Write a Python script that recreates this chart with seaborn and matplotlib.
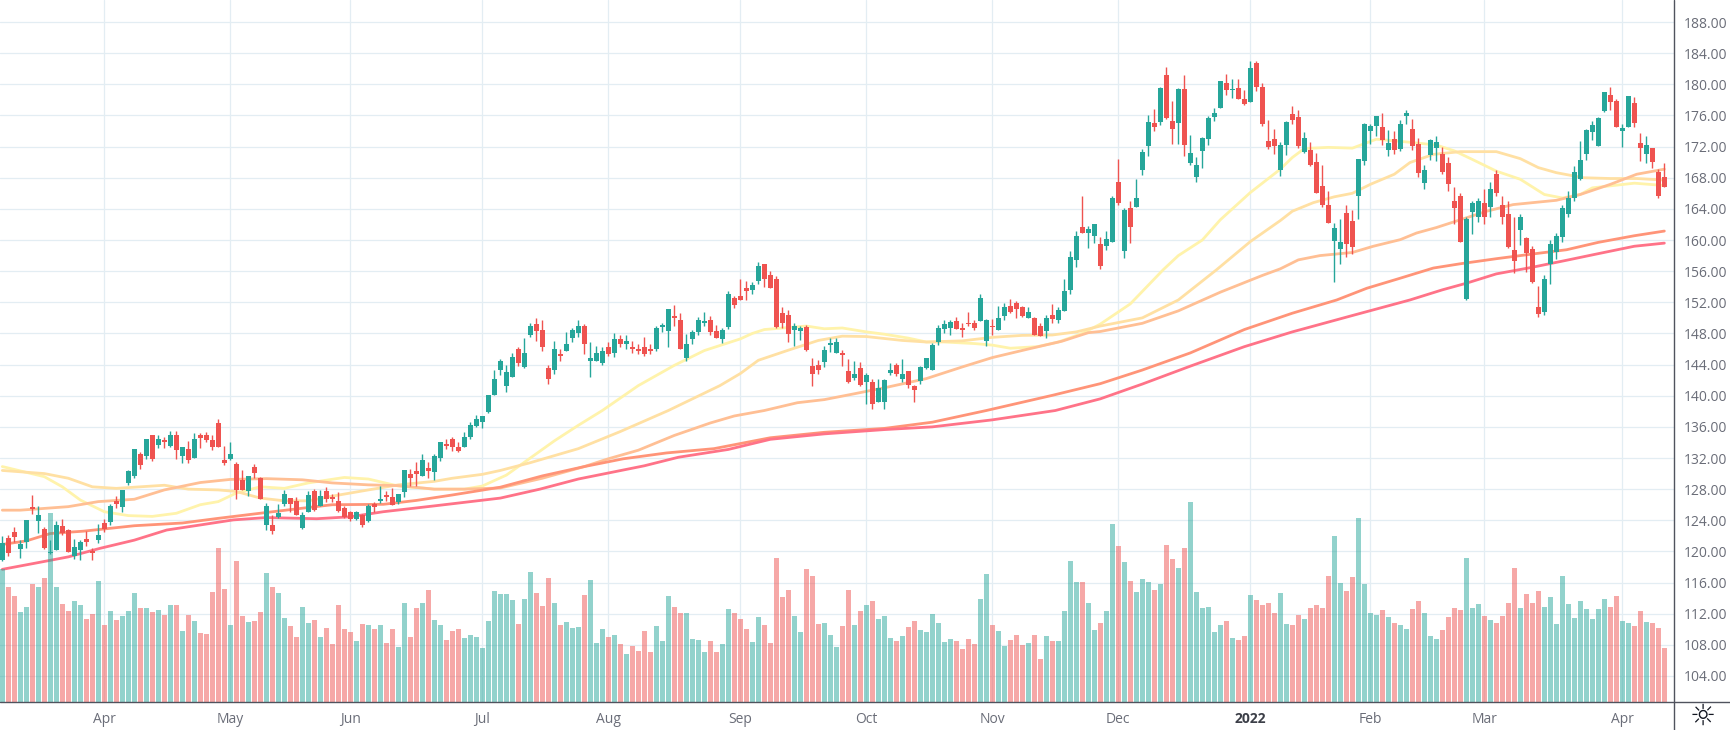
import numpy as np
import pandas as pd
import seaborn as sns
import matplotlib.pyplot as plt
from matplotlib.lines import Line2D

sns.set_theme(style='white')
plt.rcParams['font.family'] = ['Open Sans', 'DejaVu Sans']

opens = [118.9,121.7,122.5,120.3,121.2,125.7,123.9,122.9,119.8,120.2,
    123.3,122.75,119.4,120.2,121.6,120.05,121.45,123.65,123.8,126.5,
    125.7,128.8,129.7,132.55,132.3,135,133.7,134.35,133.5,135,
    132.3,133.1,132.05,134.9,135,134.35,136.55,131.8,131.9,131.25,
    129.2,127.8,130.9,129.45,123.4,123.4,124.4,126.1,126.9,126.5,
    123,125.05,127.8,125.85,127.8,127,126.5,125.6,125.05,124.15,
    124.65,123.9,126.1,126.5,127.25,127,126.35,127.65,130,130.35,
    129.7,130.75,130.25,132.05,133.85,134.5,133.45,133.35,134.75,136.05,
    136.6,137.9,140.1,143.35,141.3,142.45,146.05,143.75,147.85,149.15,
    148.4,143.6,143.25,145.4,145.7,147.35,148,149,144.5,144.4,
    144.15,146.2,145.55,147.25,146.7,146.2,146.05,146.3,145.95,145.95,
    148.8,148.25,150.2,149.7,144.8,147.25,148.15,149.3,149.7,148.25,
    147.25,148.8,152.55,152.8,153.85,153.6,154.75,156.95,155.5,155,
    150.6,150.35,148.45,148.3,148.8,143.8,143.9,144.3,146.5,145.45,
    145.45,143.15,142.25,143.55,141.7,141.7,139.25,139.25,142.9,143.9,
    142.1,143.15,141.2,141.85,143.5,143.25,146.9,148.55,148.7,149.6,
    148.7,149.35,149.35,149.6,147,148.95,148.45,150.25,151.55,151.9,
    151.4,150,150,148.95,148.3,150.35,149.7,150.9,153.6,157.45,
    161.7,160.95,160.55,159.5,159.25,159.8,167.5,158.6,164.05,164.2,
    168.95,172.05,175,175.15,181.2,175.25,175,179.4,169.85,168.15,
    171.4,172.95,175.8,176.95,180.15,179.25,179.5,178.1,177.7,182.75,
    179.65,172.7,172.95,168.95,172.15,176.15,175.8,171.25,171.5,170,
    167,164.45,159.9,158.9,163.5,162.5,165.6,170.1,174,174.6,
    174.5,171.5,172.95,171.65,175.9,174.25,172.3,167.3,170.9,171.8,
    171,169.85,164.95,165.6,152.45,163.65,162.9,164.7,164.3,168.45,
    164.55,163.4,158.75,161.35,160.2,158.85,151.4,150.75,156.95,158.5,
    160.45,163.4,165.35,167.9,171,173.85,172.05,176.55,178.6,177.85,
    174,174.5,177.6,172.45,171,171.8,168.7,168.05]

closes = [121.1,119.8,121.85,120.95,124.05,125.45,124.7,120.4,119.9,123.4,
    122.4,119.9,120.55,121.2,121.2,119.8,122.1,122.9,125.85,126.1,
    127.9,130.35,133.1,131.15,134.5,131.9,134.5,134.1,134.9,133,
    133.45,131.8,134.4,134.6,134.25,133.45,133.35,131.4,132.55,127.85,
    127.9,129.7,130.1,126.75,125.85,122.6,124.95,127.4,126.1,124.7,
    124.7,127.25,125.35,127.15,126.75,126.75,125.2,124.45,124.15,125.05,
    123.4,125.85,125.7,126.75,127,126,127.4,130.5,129.45,130,
    131.8,130.35,132.3,134,133.6,133.35,132.95,134.75,136.3,137,
    137.35,140.1,142.15,144.5,143.1,145,144.25,145.55,149,148.25,
    146.2,142.2,146.05,145.15,146.7,148.5,148.9,146.6,144.9,145.55,
    145.8,145.3,147.25,146.7,147,145.95,145.8,145.4,145.7,148.75,
    149.05,151.1,149.95,146.05,146.6,148.15,149.7,149.55,148.15,147.35,
    148.5,153.05,151.65,152.3,153.45,154.25,156.7,155,153.85,148.8,
    149.3,147.9,148.95,148.7,145.85,142.75,143.25,145.85,146.75,146.9,
    145.2,141.7,142.75,141.35,142.6,138.9,141.05,142,143.25,142.75,
    142.75,141.35,140.7,143.65,144.8,146.5,148.7,149.2,149.45,148.55,
    148.45,149.2,148.7,152.55,149.7,148.8,150,151.4,150.75,151.15,
    150.25,150.75,147.8,147.65,150,149.85,151,153.45,157.85,160.55,
    160.95,161.45,162,156.7,160.15,165.35,164.7,163.8,161.7,165.35,
    171.25,175.15,174.5,179.55,175.65,174.25,179.4,172.15,171.15,169.7,
    173.1,175.65,176.3,180.45,179.25,179.4,178.1,177.45,182.1,179.65,
    174.9,171.9,172.05,172.15,175.15,175.4,172.05,173.05,169.7,166.1,
    164.45,162.25,161.6,159.8,159.5,159.15,170.35,174.9,174.6,175.9,
    172.8,172.4,171.5,174.9,176.3,172.05,168.55,168.95,172.8,172.55,
    168.8,167.15,164.15,159.8,162.75,164.8,165.05,163,166.6,166.1,
    163,159.15,157.35,163,158.35,154.6,150.5,155,159.5,160.55,
    164.05,165.35,168.8,170.25,174.1,174.75,175.65,179,177.7,174.5,
    174.35,178.5,175,171.8,172.15,170,165.6,166.75]

highs = [122,122.1,123.1,121.5,124.05,127.3,125.85,123.15,121.5,123.9,
    124.2,122.9,121.6,121.5,122.6,120.4,123.5,124.15,126.1,127.15,
    127.9,130.4,133.1,132.8,134.5,135,135,134.75,135.5,135.5,
    133.45,134.2,135.15,135.15,135.4,135,137.05,133.6,134.1,131.5,
    130.5,129.7,131.25,129.6,126.2,124.7,126.1,127.9,126.9,127,
    125,127.8,128.05,127.9,128.3,127.4,127.65,125.85,125.2,125.2,
    124.8,126.1,126.4,128.45,127.8,128.15,127.4,130.5,130.6,131.5,
    132.55,131.5,132.45,134.1,134.4,134.65,134,135.3,136.6,137.5,
    137.35,140.1,143.35,144.75,144,145.55,146.2,147.35,149.4,149.95,
    149.7,144,147,146.05,148.15,148.65,149.7,149.2,146.85,146.45,
    146.2,146.85,148,147.75,147.75,147,146.6,147.6,146.6,148.9,
    149.3,151.1,151.6,150.6,147.9,148.4,150.05,150.7,150.2,149.05,
    148.65,153.45,152.8,155,154.75,154.65,157.2,156.95,156,155.4,
    151.4,151,149.35,148.95,149.05,144.8,144.55,146.35,147.4,147.4,
    145.85,144.7,144.45,144.3,142.9,142.1,142.1,142.1,144.2,144.2,
    144.7,143.15,141.35,143.8,144.8,146.75,149.1,149.7,149.7,150.1,
    149.35,150.75,149.7,153.05,149.85,149.85,151.55,151.9,152.45,152.15,
    151.55,151.4,150.1,149.35,150.35,151.8,151.4,155,158.6,161.1,
    165.7,161.85,162.1,160.4,161.2,165.6,170.35,164.15,164.95,167.9,
    171.65,176.05,176.8,179.65,182.25,177.85,179.5,181.2,173.45,170.6,
    173.2,175.9,176.95,180.45,181.35,180.7,180.7,179.25,183,183,
    180.15,175.4,174.25,172.55,175.25,177.2,176.7,173.85,172.55,171.15,
    169.7,166.35,162.25,162.75,164.45,163.8,170.35,175,174.9,175.9,
    176.3,174.1,174,175.4,176.7,175.5,173.1,169.6,172.95,173.35,
    171.9,170.6,166.75,166.1,162.9,165.05,165.45,166.6,167.4,168.95,
    165.6,165.05,162.9,163.4,160.45,159.25,154.1,155.5,160,160.95,
    164.45,166.35,169.45,172.7,174.25,175.25,175.8,179,179.65,178.1,
    174.9,178.5,178.35,173.7,173.35,171.8,169.1,169.85]

lows = [118.8,119.4,121.2,119.2,120.4,124.8,122.4,120.3,119.65,120.2,
    122.1,119.9,119,118.9,120.7,118.9,121.05,122.5,123.4,125.6,
    125.05,128.55,129.45,130.6,131.9,131.65,133.3,133.3,133.4,131.85,
    131.3,131.4,132.05,133.3,134.1,133.05,133.35,131.15,131.8,126.75,
    127.9,127.15,129.45,126.75,122.75,122.25,124.3,125.85,125,124.7,
    122.9,125.05,125.2,125.85,126.35,126.35,125.05,124.3,123.9,124,
    123.1,123.8,125.1,126.25,126.5,126,126.1,127,128.45,128.45,
    129.7,129.45,129.2,131.65,133.1,132.95,132.8,133.35,134.4,135.95,
    135.8,137.75,140.1,142.6,140.5,142.45,143.85,143.5,147.6,147,
    145.8,141.55,142.85,144.5,145.7,146.85,147.6,145.4,142.45,144.4,
    144,145.15,145,146.2,146.05,145.55,145.4,145.15,145.4,145.7,
    148.15,146.3,149,146.05,144.4,146.7,147.75,149,147.75,147.35,
    146.75,148.55,151.25,152.3,152.3,153.05,154.35,154,153.85,148.7,
    148.7,146.9,146.35,147.15,145.7,141.2,142.75,143.65,145.6,145.45,
    143.8,141.6,142,141.2,139,138.25,139.25,138.25,142.6,142.5,
    141.7,140.95,139.15,141.45,143.4,143.25,146.5,148.05,147.8,148.55,
    147.5,148.95,148.45,149.6,146.35,147.8,148.45,149.7,150.6,150,
    150.1,150,147.8,147.65,147.4,149.35,149.35,150.9,153.05,156.55,
    160.95,159,159.65,156.3,158.75,159.8,164.55,157.7,159.65,164.2,
    168.3,170.75,174,174.75,175.5,172.3,172.3,170.75,169.7,167.5,
    169.2,172.15,175.25,176.95,178.6,178.25,178.1,177.35,177.7,179.15,
    174.6,171.65,171,168.2,170.9,174.9,171.8,171.15,169.45,166,
    164.2,162.25,154.6,156.95,157.85,158.25,162.75,169.6,172.3,173.35,
    172.15,170.75,171,171.4,174.9,171.5,168.05,166.6,170.25,170.1,
    168.45,166.25,162.1,159.8,152.3,160.8,162.35,162,163,165.6,
    162.1,159,155.8,159.4,155.9,154.5,150.1,150.35,154.35,157.6,
    159.8,163,164.95,167.65,170.25,172.8,172.05,176.45,176.7,174.5,
    171.9,174.5,174.5,170.1,169.85,169.2,165.45,166.75]

# volume in millions of shares, roughly
volumes = [133,115,106,90,95,118,115,124,189,115,
    98,91,101,97,83,88,121,77,91,82,
    86,91,109,94,94,90,92,87,97,97,
    71,87,81,69,68,110,154,113,77,141,
    86,80,81,90,129,115,109,84,76,65,
    95,79,82,65,74,58,97,73,70,61,
    78,77,73,77,59,73,55,99,65,94,
    99,112,82,77,62,71,73,64,67,65,
    54,81,111,108,108,102,78,103,130,109,
    96,124,99,77,80,74,75,107,122,59,
    73,65,67,58,48,56,51,71,50,76,
    61,106,95,89,89,63,62,50,61,50,
    58,93,89,83,73,60,85,77,59,144,
    105,112,86,70,133,126,78,79,67,55,
    76,112,77,91,97,101,83,86,64,61,
    66,75,81,72,70,88,79,60,63,61,
    53,63,58,103,128,77,71,56,62,67,
    57,59,67,43,66,61,61,91,141,120,
    120,99,72,79,91,178,156,140,121,110,
    123,120,112,118,157,143,134,154,200,110,
    94,95,70,77,81,64,62,66,107,102,
    97,99,89,109,78,77,87,83,94,97,
    94,126,166,119,111,125,184,118,89,87,
    92,85,79,77,73,93,101,89,66,63,
    72,85,94,92,144,94,98,86,82,79,
    86,99,134,94,108,99,111,95,105,78,
    126,98,84,101,93,83,93,103,95,106,
    81,79,76,91,80,79,74,54]

ma1_x = [0,7,10,13,17,21,25,29,33,36,39,43,47,51,57,61,66,72,77,80,84,88,92,96,100,
    106,112,117,123,125,127,134,137,140,144,147,151,154,157,162,165,168,172.5,176,180,183,188,193.5,
    196,200,203,208,213,215,217,221,225,229,234,239,242,245,249,253,257,260,263,265,268.5,272,277]
ma1 = [130.9,129.6,128.3,126.6,125.1,124.6,124.5,124.9,126,126.4,127.5,128.3,128.1,128.8,129.5,129.3,128.4,128,128,128.4,129.8,132,134.2,136.2,138.1,
    141.3,143.9,145.8,147.3,148,148.5,148.95,148.6,148.7,148.2,147.9,147.4,146.9,146.9,146.7,146.5,146.1,146.3,146.9,148,149.2,151.8,156.2,
    158,160,162.6,166.1,169.1,170.6,171.75,171.9,171.8,172.95,172.6,172.2,171.45,170.35,168.85,167.8,165.85,165.4,165.85,166.7,167,167.3,167]

ma2_x = [0,7,11,15,19,23,27,31,36,39,43,47,51,55,61,66,72,75,80,83,88,96,103,111,119.6,123,126,131,136,140,144,150,154,160,165,170,175,179,183,190,196,
    202.4,208,213,215,218.5,222,225,228,232,234.6,238.5,243,249,253,256,259,263.5,268,272.4,277]
ma2 = [130.4,130,129.4,128.3,128.1,128.3,128.5,128,127.9,127.7,126.85,126.5,126.5,127.1,127.9,128.55,129,129.4,129.9,130.4,131.4,133.2,135.4,138.1,141.3,142.85,144.55,145.85,147.1,147.65,147.6,147.1,146.9,147.05,147.5,147.75,147.8,148.2,148.95,150,152.3,
    156.2,159.8,162.5,163.7,164.8,165.55,166,167.15,168.45,169.95,171,171.35,171.35,170.45,169.3,168.65,168,167.9,167.9,167.7]

ma3_x = [0,3,11,16,22,27,33,38,44,50,55,61,66,72,77,83,90,97,101,106,112,118,122,127,132.5,137,142,147.5,154,160,165,171,176.6,181,183,190,196,203,210,
    213,216,219.6,225,228.5,233,235.7,239,243,247.4,251.8,255.7,259,263,268,272.4,277]
ma3 = [125.3,125.3,125.75,126.4,126.7,127.9,128.85,129.25,129.35,129.2,128.8,128.55,128.45,128,128,128.15,129.4,130.9,131.9,133,134.9,136.5,137.4,138.1,139.1,139.5,140.25,141.1,142.2,143.7,144.9,146,147,148.1,148.25,149.3,150.9,153.3,155.45,
    156.3,157.45,158,158.4,159.2,160.05,160.9,161.6,162.6,163.7,164.55,164.85,165.1,165.85,167.15,168.45,169.1]

ma4_x = [0,4,8,13.5,22,30,36,44,50,55,63.5,69,75,83,90,97,103.5,110.7,118.6,128,137,147,155,164,175,183,190,198,207,215,222.4,227.4,233,238.5,243,249,255,260.7,266,272,277]
ma4 = [120.9,121.35,122.3,122.6,123.3,123.65,124.25,125,125.55,126,126.05,126.55,127.25,128.25,129.7,130.9,131.9,132.65,133.2,134.6,135.3,135.8,136.6,138.1,140.05,141.55,143.3,145.5,148.5,150.6,152.3,153.8,155.1,156.4,156.95,157.6,158.2,158.75,159.7,160.55,161.15]

ma5_x = [0,5.2,11,16.3,22,27.4,33,38.5,44,52.4,58,63.5,72,83,89.6,96,107,112.7,121,128,137,147,155,165,175.5,183,190,198,207,215,225,234.6,240,244,249,255,260.7,266,272,277]
ma5 = [117.7,118.45,119.3,120.4,121.45,122.75,123.4,124.05,124.35,124.2,124.45,125.1,125.85,126.85,128,129.3,131,132.1,133.1,134.4,135.1,135.65,136,136.9,138.1,139.6,141.5,143.8,146.3,148.2,150.3,152.3,153.6,154.45,155.65,156.5,157.4,158.25,159.2,159.6]

price_ticks = list(range(104, 192, 4))
date_ticks = [17, 38, 58, 80, 101, 123, 144, 165, 186, 208, 228, 247, 270]
date_labels = ['Apr', 'May', 'Jun', 'Jul', 'Aug', 'Sep', 'Oct', 'Nov', 'Dec', '2022', 'Feb', 'Mar', 'Apr']

UP = '#26a69a'
DOWN = '#ef5350'
GRID = '#e3edf3'
AXIS = '#50535e'
TEXT = '#6a6d78'
W, H = 1730, 730
AX_W, AX_H = 1674.3, 702.3

df = pd.DataFrame({'open': opens, 'high': highs, 'low': lows, 'close': closes, 'volume': volumes})
df['bar'] = df.index
df['dir'] = np.where(df['close'] >= df['open'], 'up', 'down')
colors = df['dir'].map({'up': UP, 'down': DOWN})

fig = plt.figure(figsize=(W / 100, H / 100), dpi=100, facecolor='white')
ax = fig.add_axes([0, 1 - AX_H / H, AX_W / W, AX_H / H])

xlim = (-0.388, 278.66)
ylim = (100.62, 190.83)

# moving averages, palest first
ma_styles = [(ma1_x, ma1, '#fff3ab'), (ma2_x, ma2, '#ffe0a3'), (ma3_x, ma3, '#ffbf94'),
             (ma4_x, ma4, '#ff9478'), (ma5_x, ma5, '#ff7388')]
for xs, ys, col in ma_styles:
    sns.lineplot(x=xs, y=ys, ax=ax, color=col, linewidth=2.0, zorder=2, estimator=None, sort=False)

ax.vlines(df['bar'], df['low'], df['high'], colors=colors, linewidth=1.0, zorder=3)
ax.bar(df['bar'], (df['close'] - df['open']).abs(), bottom=df[['open', 'close']].min(axis=1),
       width=5 / 6, color=colors, linewidth=0, zorder=4)

sns.despine(ax=ax, left=True, right=True, top=True, bottom=True)
ax.set_xlim(xlim)
ax.set_ylim(ylim)
ax.set_xticks(date_ticks)
ax.set_xticklabels(date_labels)
ax.set_yticks(price_ticks)
ax.set_yticklabels([f'{p:.2f}' for p in price_ticks])
ax.grid(True, color=GRID, linewidth=0.9)
ax.set_axisbelow(True)
ax.get_xticklabels()[9].set_fontweight('bold')
ax.get_xticklabels()[9].set_color('#3c3f48')
ax.set_xlabel('')
ax.set_ylabel('')

# volume sits in its own scale at the bottom of the same pane
vol_ax = ax.twinx()
sns.barplot(data=df, x='bar', y='volume', hue='dir', ax=vol_ax, native_scale=True, dodge=False,
            palette={'up': UP, 'down': DOWN}, alpha=0.5, saturation=1, width=5 / 6,
            linewidth=0, errorbar=None, legend=False)
vol_ax.set_xlim(xlim)
vol_ax.set_ylim(0, AX_H)
vol_ax.set_yticks([])
vol_ax.set_xlabel('')
vol_ax.set_ylabel('')
for spine in vol_ax.spines.values():
    spine.set_visible(False)

# twinx moves the price labels back to the left
ax.yaxis.tick_right()
ax.tick_params(axis='y', length=0, pad=7, labelsize=10, labelcolor=TEXT)
ax.tick_params(axis='x', length=0, pad=7, labelsize=10)
for lab in ax.get_xticklabels():
    if lab.get_text() != '2022':
        lab.set_color(TEXT)

# frame of the price and time scales
fig.add_artist(Line2D([AX_W / W, AX_W / W], [0, 1], color=AXIS, linewidth=1.0))
fig.add_artist(Line2D([0, 1], [1 - AX_H / H, 1 - AX_H / H], color=AXIS, linewidth=1.0))
fig.text(1703 / W, 1 - 716.5 / H, '\u263c', ha='center', va='center', fontsize=21,
         color='#131722', family='DejaVu Sans')

fig.savefig('out.png', dpi=100)
